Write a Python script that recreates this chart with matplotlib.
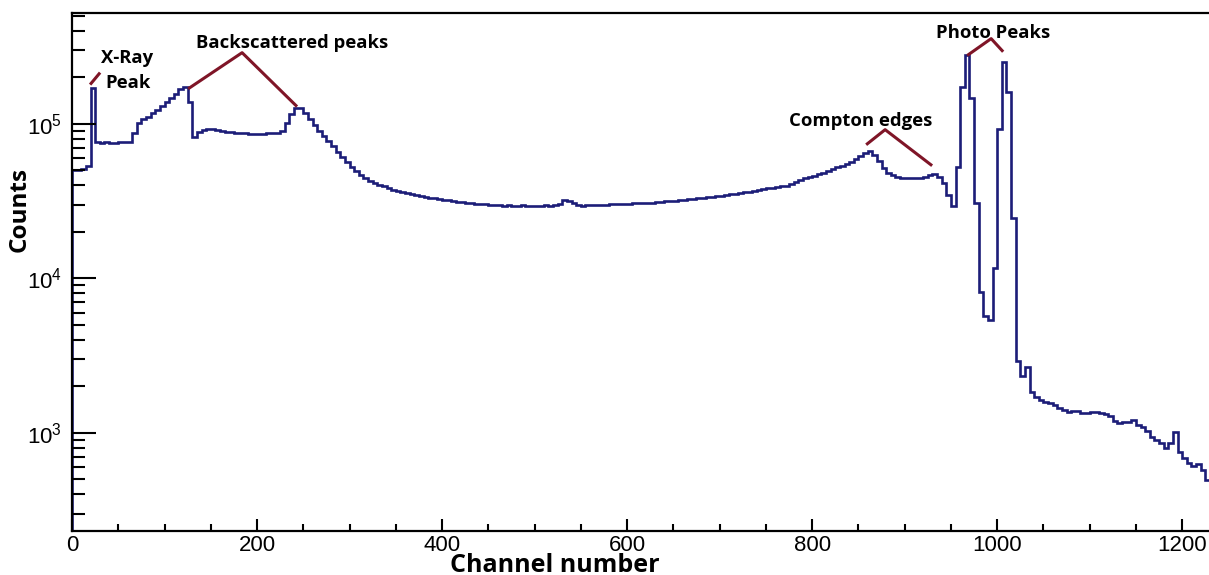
import matplotlib
matplotlib.use("Agg")
import matplotlib.pyplot as plt
from matplotlib.ticker import LogLocator, MultipleLocator, NullFormatter
import numpy as np

plt.rcParams["font.family"] = ["Liberation Sans", "DejaVu Sans"]
plt.rcParams["mathtext.default"] = "regular"

# spectrum, 5-channel bins starting at channel 0
bin_width = 5
counts = [
    50400, 50400, 50900, 53500, 171000,
    76000, 75500, 75600, 75400, 75500, 75800, 76000, 76200,
    87400, 101500, 108000, 111000, 118000, 123000, 130800, 139000,
    147000, 156000, 168500, 173000, 139000,
    82400, 88800, 91500, 92900, 92900, 91500, 90100, 88800, 88000, 87400,
    87000, 86500, 86000, 86000, 86200, 86000, 86500, 87000, 87500,
    90100, 101500, 116000, 127000, 127000, 118000, 108000, 98500, 90100,
    83600, 77600, 72000, 65900, 61100, 56800, 52700, 49600, 46800, 44700,
    42700, 41500, 40300, 39700, 38500, 37400, 36900, 36300, 35800, 35200,
    34700, 34200, 33700, 33200, 33200, 32700,
    32200, 32200, 31700, 31300, 31300, 30800, 30800, 30300, 30300, 30300,
    29900, 29900, 29700, 29500, 29900, 29500, 29500, 29700, 29500, 29300,
    29500, 29500, 29700, 29500, 29800,
    30300, 32200, 31700, 30800, 29900, 29500,
    29600, 29700, 29800, 29900, 30000, 30100, 30200, 30300, 30300,
    30400, 30500, 30600, 30700, 30800, 30900, 31100, 31300, 31500, 31600,
    31800, 32100,
    32300, 32500, 32700, 33000, 33200, 33500, 33700,
    34000, 34300, 34700, 35000, 35300, 35600, 35900,
    36300, 36800, 37200, 37700, 38100, 38600, 39000, 39300,
    39700, 40900, 42100, 43400, 44700, 45400, 46100, 47500, 48200, 49600,
    51100, 52700, 53500, 55100, 56800, 59400, 62100, 64900, 66900, 63000,
    57600, 51900, 48200, 46800, 45400, 44700,
    44700, 44700, 44700, 44700, 45400, 46800, 47500, 45400, 41500,
    34700, 29500, 52700, 173000, 280000, 147000, 30800, 8180, 5720, 5390,
    11700, 92900, 252000, 161000, 24600,
    2920, 2340, 2670, 1840, 1700, 1640, 1590, 1560, 1520, 1450,
    1410, 1370, 1390, 1390, 1350, 1350, 1370, 1370, 1350, 1330,
    1290, 1200, 1160, 1180, 1180, 1210, 1130, 1090, 1030, 940,
    900, 862, 800, 862, 1015, 753, 690, 640, 612, 630,
    576, 496,
]

# annotation labels and their bracket lines (channel, counts)
labels = ["X-Ray", "Peak", "Backscattered peaks", "Compton edges", "Photo Peaks"]
label_pos = [(59.5, 2.67e5), (60.5, 1.84e5), (238, 3.34e5), (853, 1.046e5), (996, 3.88e5)]
brackets = [
    [(19.5, 1.79e5), (30.3, 2.14e5)],
    [(125.4, 1.68e5), (183.8, 2.88e5), (243.2, 1.29e5)],
    [(858.4, 7.31e4), (878.9, 9.15e4), (929.7, 5.35e4)],
    [(967.6, 2.76e5), (993.5, 3.55e5), (1006.5, 2.92e5)],
]

edges = np.arange(len(counts) + 1) * bin_width

fig = plt.figure(figsize=(12.09, 5.75), dpi=100)
ax = fig.add_axes([0.0596, 0.0765, 0.9404, 0.9009])

ax.stairs(counts, edges, color="#1c1d78", lw=1.9)

ax.set_yscale("log")
ax.set_xlim(0, 1229)
ax.set_ylim(232, 5.2e5)

ax.xaxis.set_major_locator(MultipleLocator(200))
ax.xaxis.set_minor_locator(MultipleLocator(50))
ax.yaxis.set_major_locator(LogLocator(base=10))
ax.yaxis.set_minor_locator(LogLocator(base=10, subs=np.arange(2, 10)))
ax.yaxis.set_minor_formatter(NullFormatter())

ax.tick_params(axis="x", which="major", direction="in", length=9, width=1.5,
               labelsize=16, pad=3)
ax.tick_params(axis="x", which="minor", direction="in", length=5, width=1.5)
ax.tick_params(axis="y", which="major", direction="in", length=17, width=1.5,
               labelsize=16, pad=7)
ax.tick_params(axis="y", which="minor", direction="in", length=9, width=1.5)
ax.tick_params(top=False, right=False, which="both")

for side in ["left", "bottom", "top"]:
    ax.spines[side].set_linewidth(1.6)
ax.spines["right"].set_visible(False)

fig.text(0.459, 0.005, "Channel number", ha="center", va="baseline",
         fontsize=18, fontweight="bold", family="Open Sans")
fig.text(0.0165, 0.635, "Counts", ha="center", va="center", rotation=90,
         fontsize=17.5, fontweight="bold", family="Open Sans")

maroon = "#7f1527"
for pts in brackets:
    xs, ys = zip(*pts)
    ax.plot(xs, ys, color=maroon, lw=2.2, solid_capstyle="butt")

for text, (x, y) in zip(labels, label_pos):
    ax.text(x, y, text, ha="center", va="center", fontsize=13.3,
            fontweight="bold", family="Open Sans")

fig.savefig("out.png", dpi=100)
